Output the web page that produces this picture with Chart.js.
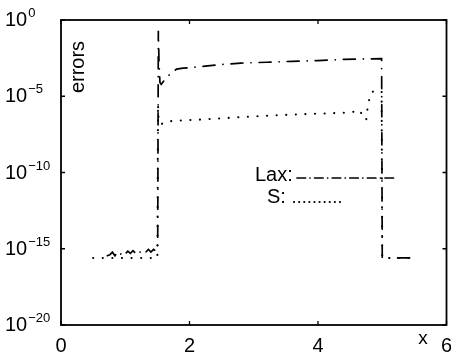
<!DOCTYPE html>
<html><head><meta charset="utf-8">
<script src="https://cdn.jsdelivr.net/npm/chart.js@4/dist/chart.umd.min.js"></script>
<style>html,body{margin:0;padding:0;background:#fff}#c{display:block}</style>
</head><body>
<canvas id="c" width="451" height="355"></canvas>
<script>
// ---- data ----
const laxX = [0.72,0.76,0.8,0.84,0.88,0.92,0.96,1.0,1.04,1.08,1.12,1.16,1.2,1.24,1.28,1.32,1.36,1.4,1.44,1.48,1.505,1.515,1.525,1.54,1.56,1.6,1.65,1.72,1.8,1.9,2.0,2.2,2.5,2.8,3.2,3.6,4.0,4.4,4.8,4.99,5.0,5.5];
const laxY = [3.5e-16,4e-16,6e-16,3.5e-16,6e-16,4e-16,6.5e-16,4.5e-16,7e-16,5e-16,7.5e-16,5e-16,8e-16,5.5e-16,8e-16,6e-16,9e-16,6e-16,9e-16,7e-16,1e-15,0.2,2e-3,8e-5,6e-5,1e-4,1.8e-4,3.5e-4,6e-4,7e-4,7.5e-4,9e-4,1.2e-3,1.5e-3,1.7e-3,1.95e-3,2.2e-3,2.6e-3,2.85e-3,2.9e-3,2.5e-16,2.5e-16];
const sX = [0.5,1.5,1.51,1.52,1.56,1.65,1.8,2.2,2.6,3.0,3.5,4.0,4.5,4.65,4.7,4.75,4.78,4.84,4.92,4.99,5.0,5.5];
const sY = [2.5e-16,2.5e-16,3e-6,2e-7,1.5e-7,2.2e-7,2.5e-7,3e-7,3.8e-7,4.8e-7,6e-7,7.2e-7,8.5e-7,1.2e-6,4.5e-7,2.8e-7,3.6e-6,1.9e-5,2.6e-5,1.9e-5,2.5e-16,2.5e-16];
const xTicks = [0,2,4,6];
const yTickExps = [0,-5,-10,-15,-20];
const seriesNames = ['Lax:','S:'];
const xTitle = 'x';
const yTitle = 'errors';

const FONT = '"Liberation Sans", Arial, Helvetica, sans-serif';
const INK = '#000';
const laxDash = [12,8,0.1,8];
const sDash = [0.1,9.5];

const decor = {
  id: 'decor',
  afterDraw(chart) {
    const ctx = chart.ctx, a = chart.chartArea;
    const xs = chart.scales.x, ys = chart.scales.y;
    ctx.save();
    ctx.strokeStyle = INK; ctx.fillStyle = INK;
    // frame
    ctx.lineWidth = 1.8; ctx.setLineDash([]);
    ctx.strokeRect(a.left, a.top, a.right - a.left, a.bottom - a.top);
    // ticks inward
    ctx.lineWidth = 1.3;
    const tl = 4;
    xTicks.forEach(v => {
      const px = xs.getPixelForValue(v);
      ctx.beginPath();
      ctx.moveTo(px, a.bottom); ctx.lineTo(px, a.bottom - tl);
      ctx.moveTo(px, a.top); ctx.lineTo(px, a.top + tl);
      ctx.stroke();
    });
    yTickExps.forEach(e => {
      const py = ys.getPixelForValue(Math.pow(10, e));
      ctx.beginPath();
      ctx.moveTo(a.left, py); ctx.lineTo(a.left + tl, py);
      ctx.moveTo(a.right, py); ctx.lineTo(a.right - tl, py);
      ctx.stroke();
    });
    // y tick labels 10^e
    ctx.textBaseline = 'alphabetic';
    yTickExps.forEach(e => {
      const py = ys.getPixelForValue(Math.pow(10, e));
      ctx.font = '20px ' + FONT; ctx.textAlign = 'left';
      ctx.fillText('10', 5, py + 6);
      const w = ctx.measureText('10').width;
      ctx.font = '13px ' + FONT;
      ctx.fillText(e === 0 ? '0' : '\u2212' + Math.abs(e), 5 + w + 1, py - 3);
    });
    // x tick labels
    ctx.font = '20px ' + FONT; ctx.textAlign = 'center';
    xTicks.forEach(v => {
      ctx.fillText(String(v), xs.getPixelForValue(v), 352);
    });
    ctx.font = '19px ' + FONT;
    ctx.fillText(xTitle, 423, 344);
    // y title inside axes
    ctx.save();
    ctx.translate(84, 67);
    ctx.rotate(-Math.PI / 2);
    ctx.font = '20px ' + FONT; ctx.textAlign = 'center';
    ctx.fillText(yTitle, 0, 0);
    ctx.restore();
    // legend
    ctx.font = '20px ' + FONT; ctx.textAlign = 'left';
    ctx.fillText(seriesNames[0], 255, 181);
    ctx.fillText(seriesNames[1], 267, 203);
    ctx.lineCap = 'round';
    ctx.lineWidth = 1.7; ctx.setLineDash([8.5,4.5,0.1,4.5]);
    ctx.beginPath(); ctx.moveTo(297, 178); ctx.lineTo(394, 178); ctx.stroke();
    ctx.lineWidth = 2.1; ctx.setLineDash([0.1,5]);
    ctx.beginPath(); ctx.moveTo(294, 202); ctx.lineTo(345, 202); ctx.stroke();
    ctx.restore();
  }
};

new Chart(document.getElementById('c'), {
  type: 'line',
  data: {
    datasets: [
      { label: 'S', data: sX.map((x,i)=>({x, y: sY[i]})), borderColor: INK, borderWidth: 2.1,
        borderDash: sDash, borderCapStyle: 'round', pointRadius: 0, tension: 0, fill: false },
      { label: 'Lax', data: laxX.map((x,i)=>({x, y: laxY[i]})), borderColor: INK, borderWidth: 1.7,
        borderDash: laxDash, borderCapStyle: 'round', pointRadius: 0, tension: 0, fill: false }
    ]
  },
  options: {
    responsive: false, animation: false, devicePixelRatio: 1,
    layout: { padding: { left: 61, right: 4.5, top: 20, bottom: 30 } },
    plugins: { legend: { display: false }, tooltip: { enabled: false } },
    scales: {
      x: { type: 'linear', min: 0, max: 6, display: false },
      y: { type: 'logarithmic', min: 1e-20, max: 1, display: false }
    }
  },
  plugins: [decor]
});
</script>
</body></html>
